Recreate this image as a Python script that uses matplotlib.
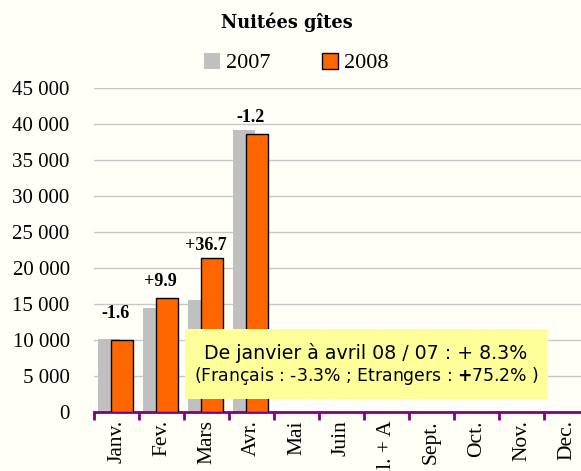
import matplotlib.pyplot as plt
import numpy as np
from matplotlib.patches import Rectangle

months = ["Janv.", "Fev.", "Mars", "Avr.", "Mai", "Juin", "Juil. + A",
          "Sept.", "Oct.", "Nov.", "Dec."]
nuitees_2007 = [10150, 14400, 15600, 39150]
nuitees_2008 = [10000, 15830, 21330, 38650]
variations = ["-1.6", "+9.9", "+36.7", "-1.2"]
label_offsets = [12, 6, 3, 3]  # points above the bar

bg = "#FFFFF7"
fig = plt.figure(figsize=(5.81, 4.71), dpi=100, facecolor=bg)
ax = fig.add_axes([94 / 581, 59 / 471, 495 / 581, 324 / 471], facecolor=bg)

x = np.arange(len(nuitees_2007))
w = 0.49
ax.bar(x - 0.164, nuitees_2007, w, color="#C0C0C0", label="2007", zorder=2)
ax.bar(x + 0.126, nuitees_2008, w, color="#FF6600", edgecolor="black",
       linewidth=1, label="2008", zorder=3)

for i, txt in enumerate(variations):
    top = max(nuitees_2007[i], nuitees_2008[i])
    ax.annotate(txt, (x[i] - 0.02, top), xytext=(0, label_offsets[i]),
                textcoords="offset points", ha="center", va="bottom",
                family="Liberation Serif", fontweight="bold", fontsize=13)

ax.set_xlim(-0.5, len(months) - 0.5)
ax.set_ylim(0, 45000)
ax.set_yticks(range(0, 45001, 5000))
ax.set_yticklabels([f"{v:,}".replace(",", " ") for v in range(0, 45001, 5000)],
                   family="Liberation Serif", fontsize=15)
ax.yaxis.grid(True, color="#C8C8C8", linewidth=1, zorder=0)
ax.set_axisbelow(True)
ax.tick_params(axis="y", length=0, pad=17.5)

ax.set_xticks(range(len(months)))
ax.set_xticklabels(months, rotation=90, family="Liberation Serif", fontsize=15.5,
                   va="top")
ax.set_xticks(np.arange(-0.5, len(months), 1), minor=True)
ax.tick_params(axis="x", which="major", length=0, pad=6)
ax.tick_params(axis="x", which="minor", length=6, width=2, color="#800080",
               direction="out")

for s in ["top", "right", "left"]:
    ax.spines[s].set_visible(False)
ax.spines["bottom"].set_color("#800080")
ax.spines["bottom"].set_linewidth(2)

fig.text(287 / 581, 1 - 22 / 471, "Nuitées gîtes", ha="center", va="center",
         family="DejaVu Serif", fontweight="bold", fontsize=12.8)
fig.legend(loc="center", bbox_to_anchor=(296 / 581, 1 - 63 / 471), ncol=2,
           frameon=False, prop={"family": "Liberation Serif", "size": 16},
           handlelength=0.75, handleheight=0.75, columnspacing=2.3,
           handletextpad=0.25)

fig.add_artist(Rectangle((185 / 581, 1 - 399 / 471), 363 / 581, 70 / 471,
                         transform=fig.transFigure, facecolor="#FFFF99",
                         edgecolor="none", zorder=5))
fig.text(366 / 581, 1 - 353 / 471, "De janvier à avril 08 / 07 : + 8.3%",
         ha="center", va="center", family="DejaVu Sans", fontsize=13.7, zorder=6)
fig.text(366 / 581, 1 - 376 / 471,
         r"(Français : -3.3% ; Etrangers : $\mathbf{+}$75.2% )",
         ha="center", va="center", family="DejaVu Sans", fontsize=12.4, zorder=6)

fig.savefig("out.png", dpi=100, facecolor=bg)
